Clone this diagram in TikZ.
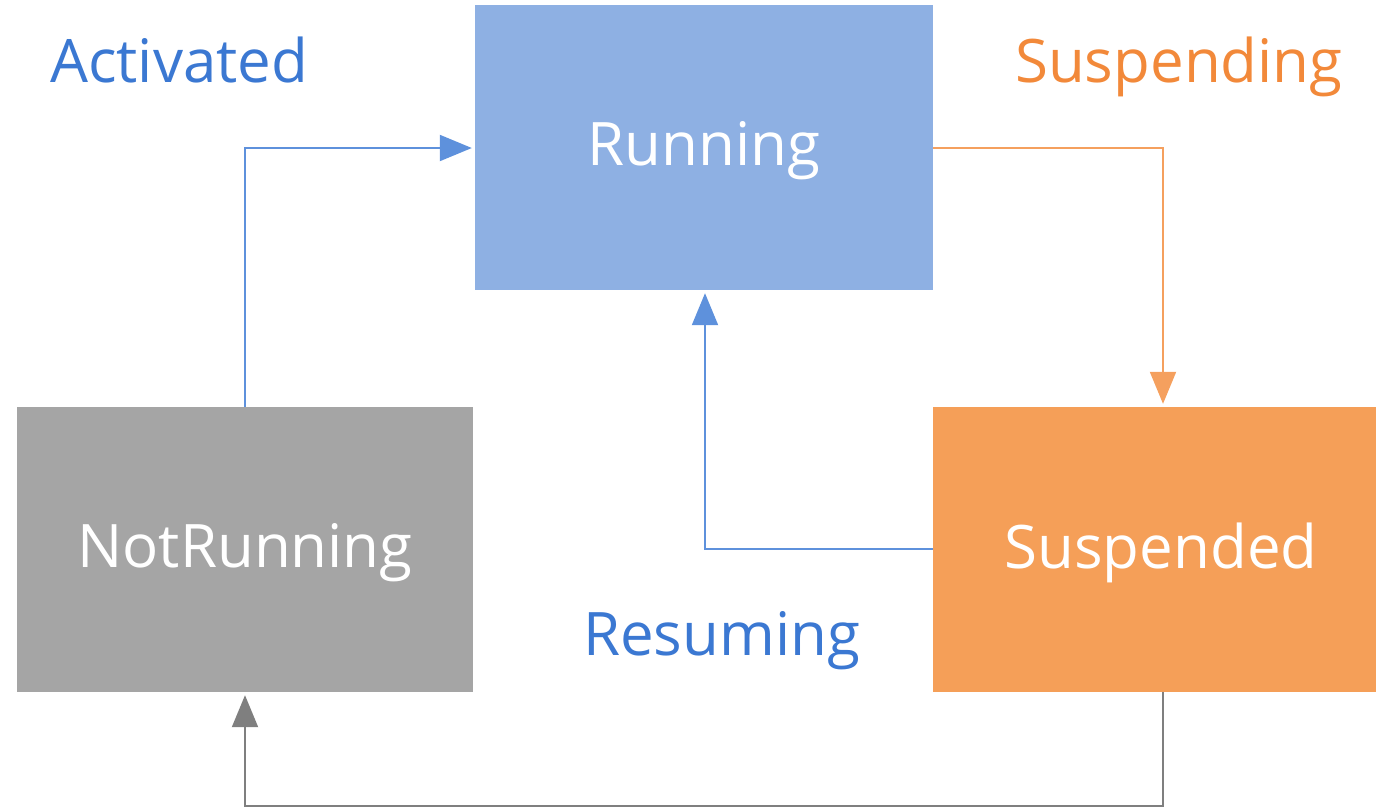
\documentclass[tikz,border=0pt]{standalone}
\usepackage{fontspec}
\setmainfont{Open Sans}
\usetikzlibrary{arrows.meta}
\definecolor{runfill}{HTML}{8EB0E3}
\definecolor{grayfill}{HTML}{A5A5A5}
\definecolor{orfill}{HTML}{F59F58}
\definecolor{bluetxt}{HTML}{3B78D2}
\definecolor{ortxt}{HTML}{F2893A}
\definecolor{blueline}{HTML}{5E91DC}
\definecolor{orline}{HTML}{F5A05E}
\definecolor{grayline}{HTML}{7F7F7F}
\tikzset{
  statebox/.style={rectangle, inner sep=0pt, text=white, font=\fontsize{60}{72}\selectfont},
  lbl/.style={inner sep=0pt, anchor=base west, font=\fontsize{60}{72}\selectfont},
  conn/.style={line width=2pt, -{Triangle[length=32pt,width=26pt]}, shorten >=3pt},
}
\begin{document}
\begin{tikzpicture}[x=1pt,y=-1pt]
\useasboundingbox (0,0) rectangle (1376,809);
\node[statebox, fill=runfill, minimum width=458pt, minimum height=285pt] (run) at (704,147.5) {};
\node[statebox, fill=grayfill, minimum width=456pt, minimum height=285pt] (nr) at (245,549.5) {};
\node[statebox, fill=orfill, minimum width=443pt, minimum height=285pt] (sus) at (1154.5,549.5) {};
\node[statebox] (trun) at (704,151) {Running};
\node[statebox] (tnr) at (245,553) {NotRunning};
\node[statebox] (tsus) at (1161,553) {Suspended};
\node[lbl, text=bluetxt] (lact) at (50,82) {Activated};
\node[lbl, text=ortxt] (lsusp) at (1015,82) {Suspending};
\node[lbl, text=bluetxt] (lres) at (583,655) {Resuming};
\coordinate (c1) at (245,148);
\coordinate (c2) at (1163,148);
\coordinate (c3) at (705,549);
\coordinate (c4) at (1163,806);
\coordinate (c5) at (245,806);
\draw[conn, blueline] (nr.north -| c1) -- (c1) -- (run.west |- c1);
\draw[conn, orline] (run.east |- c2) -- (c2) -- (sus.north -| c2);
\draw[conn, blueline] (sus.west |- c3) -- (c3) -- (run.south -| c3);
\draw[conn, grayline] (sus.south -| c4) -- (c4) -- (c5) -- (nr.south -| c5);
\end{tikzpicture}
\end{document}
